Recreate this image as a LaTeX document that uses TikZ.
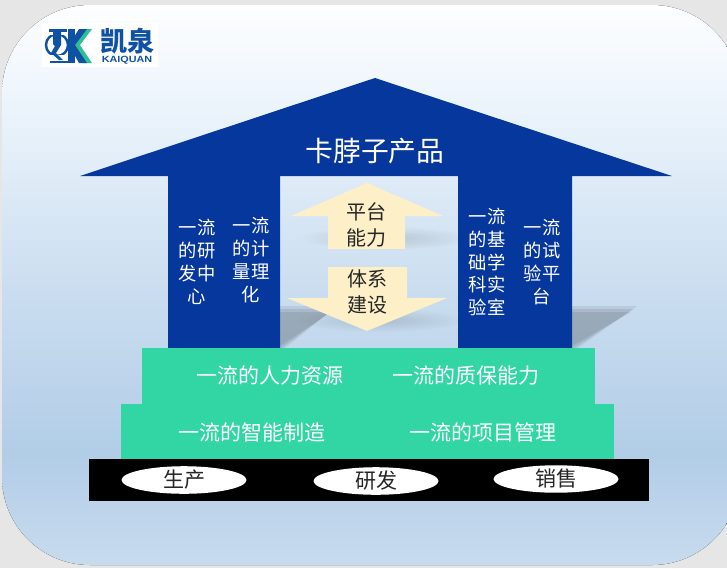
\documentclass[tikz,border=0pt]{standalone}
\usepackage{fontspec}
\usepackage{graphicx}
\setmainfont{Noto Sans CJK SC}
\newfontfamily\latinfont{Liberation Sans}
\usetikzlibrary{fadings,shapes.geometric}
\definecolor{pagegray}{HTML}{E6E6E6}
\definecolor{houseblue}{HTML}{06379C}
\definecolor{stepgreen}{HTML}{31D6A4}
\definecolor{creamy}{HTML}{FDEFC8}
\definecolor{logoblue}{HTML}{0F52A4}
\definecolor{logogreen}{HTML}{2FBF96}
\definecolor{bga}{HTML}{C8DBEE}
\definecolor{bgb}{HTML}{B2CDE7}
\definecolor{bgc}{HTML}{CBDEF0}
\definecolor{bgd}{HTML}{EAF3FB}
\definecolor{bge}{HTML}{FDFEFF}
\pgfdeclareverticalshading{pagegrad}{100bp}{
  color(0bp)=(bga); color(25bp)=(bga); color(35bp)=(bgb); color(50bp)=(bgc); color(65bp)=(bgd); color(75bp)=(bge); color(100bp)=(bge)}
\tikzfading[name=softedge,inner color=transparent!0,outer color=transparent!100]
\tikzset{
  x=1pt,y=-1pt,
  whitetext/.style={text=white,font=\fontsize{18.3}{22.8}\selectfont,align=center,inner sep=0pt},
  steptext/.style={text=white,font=\fontsize{21}{25}\selectfont,inner sep=0pt},
  arrowtext/.style={text=black!85,font=\fontsize{20}{26}\selectfont,align=center,inner sep=0pt},
  basee/.style={ellipse,fill=white,draw=none,inner sep=0pt,minimum width=125pt,minimum height=25pt,text=black!85,font=\fontsize{21}{25}\selectfont},
  softshadow/.style={fill=black,opacity=.13,path fading=softedge},
  layershadow/.style={fill=black,opacity=.08},
}
\begin{document}
\begin{tikzpicture}
\useasboundingbox (0,0) rectangle (727,568);
\fill[pagegray] (0,0) rectangle (727,568);
\fill[rounded corners=88pt,shading=pagegrad] (2,5) rectangle (740,565);
% shadows
\fill[softshadow] (380,320) ellipse (85 and 12);
\fill[softshadow] (385,238) ellipse (85 and 12);
\foreach \d in {0,3,6}{
  \fill[layershadow] (280,{306+\d}) -- ({337-\d},{306+\d}) -- (280,{352-\d}) -- cycle;
  \fill[layershadow] (572,{306+\d}) -- ({637-\d},{306+\d}) -- (572,{352-\d}) -- cycle;
}
% house
\fill[houseblue] (375,78) -- (672,176) -- (572,176) -- (572,348) -- (458,348) -- (458,176) -- (280,176) -- (280,348) -- (168,348) -- (168,176) -- (80,176) -- cycle;
\node[text=white,font=\fontsize{27.8}{32}\selectfont,inner sep=0pt] (roof) at (375,151) {卡脖子产品};
\node[whitetext] (c1) at (197,262) {一流\\的研\\发中\\心};
\node[whitetext] (c2) at (251,260) {一流\\的计\\量理\\化};
\node[whitetext] (c3) at (487,262) {一流\\的基\\础学\\科实\\验室};
\node[whitetext] (c4) at (542,262) {一流\\的试\\验平\\台};
% arrows
\fill[creamy] (367,183) -- (443,216) -- (405,216) -- (405,249) -- (328,249) -- (328,216) -- (291,216) -- cycle;
\fill[creamy] (328,267) -- (407,267) -- (407,298) -- (447,298) -- (367,331) -- (287,298) -- (328,298) -- cycle;
\node[arrowtext] (a1) at (366,225) {平台\\能力};
\node[arrowtext] (a2) at (367,292) {体系\\建设};
% steps
\fill[stepgreen] (142,348) rectangle (595,404);
\fill[stepgreen] (121,404) rectangle (614,459);
\node[steptext] (s1) at (270,376) {一流的人力资源};
\node[steptext] (s2) at (466,376) {一流的质保能力};
\node[steptext] (s3) at (252,432) {一流的智能制造};
\node[steptext] (s4) at (483,432) {一流的项目管理};
% base
\fill[black] (89,459) rectangle (649,501);
\node[basee] (b1) at (184,480) {生产};
\node[basee] (b2) at (376,481) {研发};
\node[basee] (b3) at (556,479) {销售};
% logo
\fill[white] (42,23) rectangle (158,67);
\draw[logoblue,line width=2.4pt] (57,45) circle (11);
\fill[white] (49,29) rectangle (65,35);
\fill[white] (47,55) rectangle (67,63);
\fill[logoblue] (49,29) rectangle (67,31.5);
\fill[logoblue] (53,30) -- (61,30) -- (61,45) -- (56,53) -- (63,60) -- (59,60) -- (51,53) -- (55,46) -- (53,44) -- cycle;
\fill[logoblue] (50,60.5) rectangle (70,63);
\fill[logogreen] (83,29) -- (92,29) -- (80,45) -- (92,63) -- (84,63) -- (72,45) -- cycle;
\fill[logoblue] (68,29) -- (75,29) -- (75,63) -- (68,63) -- cycle;
\fill[logoblue] (79,29) -- (87,29) -- (75,45) -- (87,63) -- (79,63) -- (69,45) -- cycle;
\node[text=logoblue,font=\bfseries\fontsize{27}{27}\selectfont,inner sep=0pt] (l1) at (127,41) {凯泉};
\node[text=logoblue,font=\latinfont\bfseries\fontsize{9}{9}\selectfont,inner sep=0pt] (l2) at (127,60.5) {\scalebox{1.2}[1]{KAIQUAN}};
\end{tikzpicture}
\end{document}
